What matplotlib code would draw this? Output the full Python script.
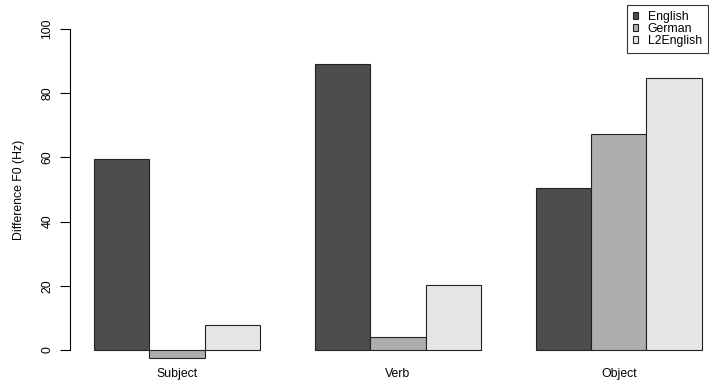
import matplotlib
matplotlib.use("Agg")
import matplotlib.pyplot as plt
import numpy as np
from matplotlib.patches import Patch

plt.rcParams["font.family"] = ["Liberation Sans", "DejaVu Sans"]

positions = ["Subject", "Verb", "Object"]
groups = ["English", "German", "L2English"]
english = [59.4, 89.1, 50.4]
german = [-2.4, 4.1, 67.4]
l2english = [7.9, 20.2, 84.6]
colors = ["#4D4D4D", "#AEAEAE", "#E6E6E6"]
yticks = [0, 20, 40, 60, 80, 100]

FS = 8.8
W, H = 709, 386
fig = plt.figure(figsize=(W / 100, H / 100), dpi=100)
# plot region like R barplot, xlim 0.56..12.44, ylim -4..104
ax = fig.add_axes([70 / W, (H - 362.8) / H, 655.8 / W, 346.6 / H])

series = [english, german, l2english]
for j, (vals, col) in enumerate(zip(series, colors)):
    # R beside=TRUE layout: space c(0, 1), width 1
    xs = np.arange(len(positions)) * 4 + 1 + j
    ax.bar(xs, vals, width=1, align="edge", color=col, edgecolor="#222222",
           linewidth=0.8, label=groups[j])

ax.set_xlim(0.56, 12.44)
ax.set_ylim(-4, 104)

for spine in ["top", "right", "bottom"]:
    ax.spines[spine].set_visible(False)
ax.spines["left"].set_bounds(0, 100)
ax.spines["left"].set_linewidth(0.8)

ax.set_yticks(yticks)
ax.set_yticklabels([str(t) for t in yticks], rotation=90, va="center", fontsize=FS)
ax.tick_params(axis="y", length=7, width=0.8, pad=5)

centers = np.arange(len(positions)) * 4 + 2.5
ax.set_xticks(centers)
ax.set_xticklabels(positions, fontsize=FS)
ax.tick_params(axis="x", length=0, pad=4)

ax.set_ylabel("Difference F0 (Hz)", fontsize=FS, labelpad=12)

handles = [Patch(facecolor=c, edgecolor="#222222", linewidth=0.8) for c in colors]
leg = fig.legend(handles, groups, loc="upper right", bbox_to_anchor=(708 / W, 1 - 4.7 / H),
                 fontsize=FS, frameon=True, fancybox=False, handlelength=0.45, handleheight=0.45,
                 handletextpad=0.77, labelspacing=0.0, borderpad=0.5, borderaxespad=0)
leg.get_frame().set_edgecolor("black")
leg.get_frame().set_linewidth(0.8)

fig.savefig("out.png", dpi=100)
